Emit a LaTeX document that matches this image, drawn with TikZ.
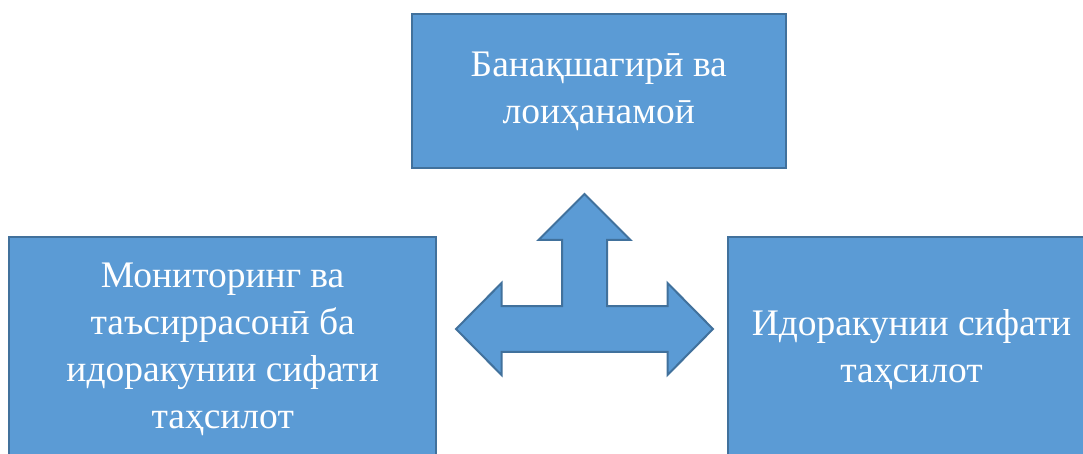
\documentclass[tikz,border=0pt]{standalone}
\usepackage{fontspec}
\setmainfont{Liberation Serif}
\definecolor{boxfill}{HTML}{5B9BD5}
\definecolor{boxedge}{HTML}{41719C}
\tikzset{
  block/.style={draw=boxedge, fill=boxfill, line width=2pt, text=white, align=center,
    inner sep=0pt, font=\fontsize{37.5}{47}\selectfont},
  arrowshape/.style={draw=boxedge, fill=boxfill, line width=2pt, line join=miter}
}
\begin{document}
\begin{tikzpicture}[x=1pt, y=-1pt]
			%%%%% START %%%%%
			\useasboundingbox (0, 0) rectangle (1083, 454);

			\node[block, minimum width=374pt, minimum height=154pt] (plan) at (598.8, 91.2) {Банақшагирӣ ва\\лоиҳанамоӣ};

			\node[block, minimum width=426.7pt, minimum height=224pt] (monitor) at (222.7, 349.4) {Мониторинг ва\\таъсиррасонӣ ба\\идоракунии сифати\\таҳсилот};

			\node[block, minimum width=368pt, minimum height=224pt] (quality) at (911.5, 349.4) {Идоракунии сифати\\таҳсилот};

			%%%%% three-way arrow %%%%%
			\draw[arrowshape] (584.5, 194) -- (630.5, 240) -- (607, 240) -- (607, 306.2)
				-- (667.5, 306.2) -- (667.5, 283) -- (713, 329) -- (667.5, 375) -- (667.5, 351.8)
				-- (501.5, 351.8) -- (501.5, 375) -- (456, 329) -- (501.5, 283) -- (501.5, 306.2)
				-- (562, 306.2) -- (562, 240) -- (538.5, 240) -- cycle;

			%%%%% END %%%%%
\end{tikzpicture}
\end{document}
